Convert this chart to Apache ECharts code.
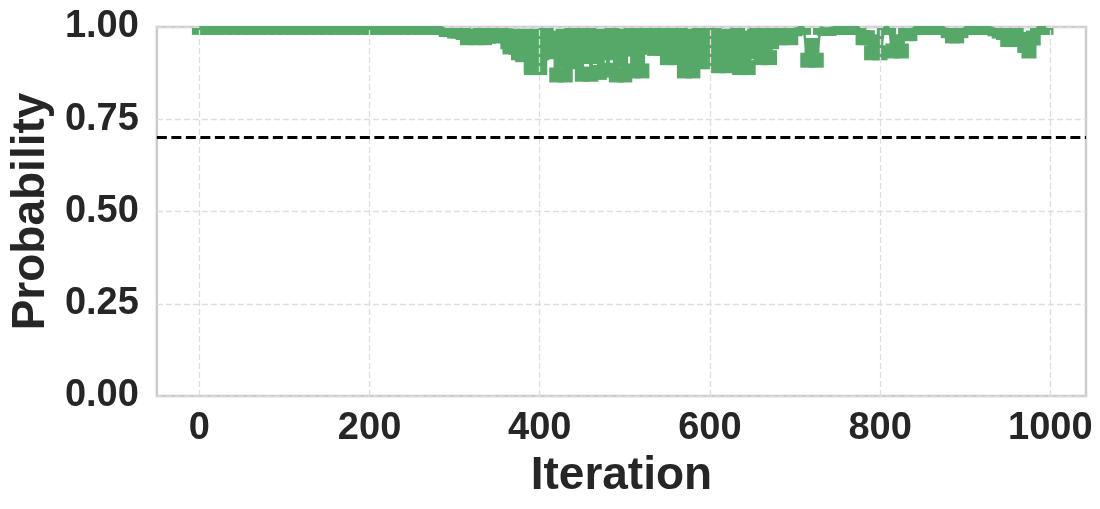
<!DOCTYPE html>
<html><head><meta charset="utf-8">
<script src="https://cdn.jsdelivr.net/npm/echarts@6/dist/echarts.min.js"></script>
<style>html,body{margin:0;padding:0;background:#fff}#c{width:1100px;height:509px}</style>
</head><body><div id="c"></div>
<script>
// Data
const iterations = [0,10,20,30,40,50,60,70,80,90,100,110,120,130,140,150,160,170,180,190,200,210,220,230,240,250,260,270,280,
285,290,295,300,305,310,315,320,325,330,335,340,345,350,355,
360,362.5,365,367.5,370,372.5,375,377.5,380,382.5,385,387.5,390,392.5,395,397.5,
400,402.5,405,407.5,410,412.5,415,417.5,420,422.5,425,427.5,430,432.5,435,437.5,
440,442.5,445,447.5,450,452.5,455,457.5,460,462.5,465,467.5,470,472.5,475,477.5,
480,482.5,485,487.5,490,492.5,495,497.5,500,502.5,505,507.5,510,512.5,515,517.5,
520,522.5,525,527.5,530,532.5,535,537.5,540,542.5,545,547.5,550,552.5,555,557.5,
560,562.5,565,567.5,570,572.5,575,577.5,580,582.5,585,587.5,590,592.5,595,597.5,
600,602.5,605,607.5,610,612.5,615,617.5,620,622.5,625,627.5,630,632.5,635,637.5,
640,642.5,645,647.5,650,652.5,655,657.5,660,662.5,665,667.5,670,672.5,675,677.5,
680,685,690,695,700,705,710,715,720,725,730,735,740,745,750,755,760,765,770,775,780,785,790,795,800,805,810,815,820,825,830,835,840,845,850,855,860,865,870,875,880,885,890,895,900,905,910,915,920,925,930,935,940,945,950,955,960,965,970,975,980,985,990,995];
const probability = [0.999,0.999,0.999,0.999,0.999,0.999,0.999,0.999,0.999,0.999,0.999,0.999,0.999,0.999,0.999,0.999,0.999,0.999,0.999,0.999,0.999,0.999,0.999,0.999,0.999,0.999,0.999,0.999,0.999,
0.999,0.993,0.993,0.989,0.989,0.985,0.971,0.975,0.971,0.985,0.971,0.975,0.990,0.976,0.985,
0.976,0.960,0.946,0.975,0.960,0.945,0.930,0.960,0.925,0.975,0.950,0.930,0.890,0.955,0.920,0.975,
0.890,0.930,0.960,0.985,0.933,0.955,0.970,0.940,0.870,0.950,0.910,0.975,0.870,0.935,0.950,0.985,
0.906,0.945,0.980,0.930,0.872,0.960,0.920,0.985,0.872,0.940,0.960,0.920,0.877,0.975,0.930,0.955,
0.883,0.940,0.990,0.960,0.870,0.930,0.910,0.975,0.870,0.940,0.950,0.985,0.881,0.960,0.920,0.945,
0.881,0.975,0.990,0.970,0.955,0.985,0.942,0.990,0.970,0.960,0.942,0.975,0.917,0.985,0.950,0.960,
0.917,0.945,0.990,0.960,0.881,0.935,0.920,0.975,0.881,0.945,0.960,0.990,0.906,0.955,0.940,0.975,
0.906,0.960,0.990,0.945,0.895,0.970,0.930,0.955,0.895,0.975,0.915,0.940,0.960,0.985,0.890,0.950,
0.930,0.970,0.890,0.955,0.933,0.975,0.990,0.950,0.917,0.975,0.950,0.990,0.917,0.960,0.990,0.985,
0.971,0.971,0.985,0.971,0.995,0.999,0.999,0.910,0.950,0.910,0.999,0.996,0.996,0.999,0.999,0.999,0.999,0.999,0.999,0.999,0.971,0.971,0.930,0.960,0.930,0.999,0.999,0.935,0.960,0.935,0.982,0.982,0.999,0.999,0.999,0.999,0.999,0.999,0.999,0.999,0.990,0.976,0.976,0.990,0.999,0.999,0.999,0.999,0.999,0.999,0.999,0.995,0.989,0.985,0.966,0.966,0.980,0.966,0.950,0.935,0.970,0.999,0.999,0.999];
const threshold = 0.7;
const xTicks = [0,200,400,600,800,1000];
const yTicks = [0,0.25,0.5,0.75,1.0];

const GREEN = '#55a868';
const TXT = '#262626';
const FONT = 'Liberation Sans';
const pts = iterations.map((x, i) => [x, probability[i]]);

const chart = echarts.init(document.getElementById('c'), null, {renderer: 'canvas'});
chart.setOption({
  animation: false,
  backgroundColor: '#fff',
  grid: {left: 156, right: 14, top: 27, bottom: 113, show: true, borderColor: '#cccccc', borderWidth: 2.5, backgroundColor: 'transparent'},
  xAxis: {
    type: 'value', min: -50, max: 1042,
    name: 'Iteration', nameLocation: 'middle', nameGap: 49,
    nameTextStyle: {fontFamily: FONT, fontWeight: 'bold', fontSize: 46, color: TXT},
    axisLine: {show: false}, axisTick: {show: false}, splitLine: {show: false},
    axisLabel: {customValues: xTicks, fontFamily: FONT, fontWeight: 'bold', fontSize: 38, color: TXT, margin: 14,
      formatter: v => String(v)}
  },
  yAxis: {
    type: 'value', min: 0, max: 1, interval: 0.25,
    name: 'Probability', nameLocation: 'middle', nameGap: 97,
    nameTextStyle: {fontFamily: FONT, fontWeight: 'bold', fontSize: 46, color: TXT},
    axisLine: {show: false}, axisTick: {show: false},
    splitLine: {show: true, lineStyle: {color: '#dedede', width: 1.3, type: [6, 3]}},
    axisLabel: {fontFamily: FONT, fontWeight: 'bold', fontSize: 38, color: TXT, margin: 18,
      formatter: v => v.toFixed(2)}
  },
  series: [
    {
      type: 'line', data: [], z: 1, silent: true,
      markLine: {silent: true, symbol: 'none', label: {show: false},
        lineStyle: {color: '#dedede', width: 1.3, type: [6, 3]},
        data: xTicks.map(v => ({xAxis: v}))}
    },
    {
      type: 'line', data: pts, symbol: 'none', clip: true, z: 2,
      lineStyle: {color: GREEN, width: 2.5}
    },
    {
      type: 'custom', data: pts, z: 3, clip: true,
      renderItem: function (params, api) {
        const p = api.coord([api.value(0), api.value(1)]);
        const s = 15;
        const cs = params.coordSys;
        const shape = echarts.graphic.clipRectByRect(
          {x: p[0] - s / 2, y: p[1] - s / 2, width: s, height: s},
          {x: cs.x, y: cs.y + 1, width: cs.width, height: cs.height - 1});
        return shape && {type: 'rect', shape: shape, style: {fill: GREEN}};
      }
    },
    {
      type: 'line', data: [], z: 4, silent: true,
      markLine: {silent: true, symbol: 'none', label: {show: false},
        lineStyle: {color: '#000', width: 2.8, type: [10, 4.5]},
        data: [{yAxis: threshold}]}
    }
  ]
});
</script></body></html>
